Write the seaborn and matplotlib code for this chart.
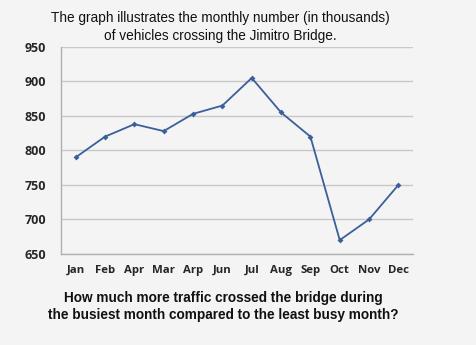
import matplotlib
matplotlib.use("Agg")
import matplotlib.pyplot as plt
import seaborn as sns
import pandas as pd
import numpy as np

months = ["Jan", "Feb", "Apr", "Mar", "Arp", "Jun", "Jul", "Aug", "Sep", "Oct", "Nov", "Dec"]
vehicles = [790, 820, 838, 828, 853, 865, 905, 855, 820, 670, 700, 750]
yticks = [650, 700, 750, 800, 850, 900, 950]

title = "The graph illustrates the monthly number (in thousands)\nof vehicles crossing the Jimitro Bridge."
question = "How much more traffic crossed the bridge during\nthe busiest month compared to the least busy month?"

sns.set_style("white")
plt.rcParams['font.family'] = ['Liberation Sans', 'DejaVu Sans']

bg = "#f4f4f4"
fig = plt.figure(figsize=(4.77, 3.45), dpi=100, facecolor=bg)
ax = fig.add_axes([0.128, 0.264, 0.738, 0.600])
ax.set_facecolor(bg)

df = pd.DataFrame({"month": months, "vehicles": vehicles})
sns.lineplot(data=df, x="month", y="vehicles", sort=False, ax=ax, color="#3a5f9a",
             linewidth=1.3, marker="D", markersize=3, markeredgewidth=0)

ax.set_xlim(-0.5, len(months) - 0.5)
ax.set_ylim(650, 950)
ax.set_yticks(yticks)
ax.yaxis.grid(True, color="#c8c8c8", linewidth=1.0)
ax.set_xticks(range(len(months)))
ax.set_xticklabels(months, fontweight="bold", fontsize=8.2, family=["Open Sans", "DejaVu Sans"])
ax.set_yticklabels([str(v) for v in yticks], fontweight="bold", fontsize=9, family=["Open Sans", "DejaVu Sans"])
ax.set_xticks(np.arange(-0.5, len(months) + 0.5, 1), minor=True)
ax.tick_params(axis="x", which="major", length=0, pad=8)
ax.tick_params(axis="x", which="minor", length=3, color="#b0b0b0", direction="out")
ax.tick_params(axis="y", which="major", length=3, color="#b0b0b0", pad=8)
ax.set_xlabel("")
ax.set_ylabel("")
for s in ["top", "right"]:
    ax.spines[s].set_visible(False)
for s in ["left", "bottom"]:
    ax.spines[s].set_color("#b0b0b0")
    ax.spines[s].set_linewidth(1.0)

fig.text(0.461, 0.921, title, ha="center", va="center", fontsize=9.8, color="#111111", linespacing=1.32)
fig.text(0.468, 0.112, question, ha="center", va="center", fontsize=9.8, fontweight="bold", color="#111111", linespacing=1.32)

fig.savefig("out.png", dpi=100, facecolor=bg)
